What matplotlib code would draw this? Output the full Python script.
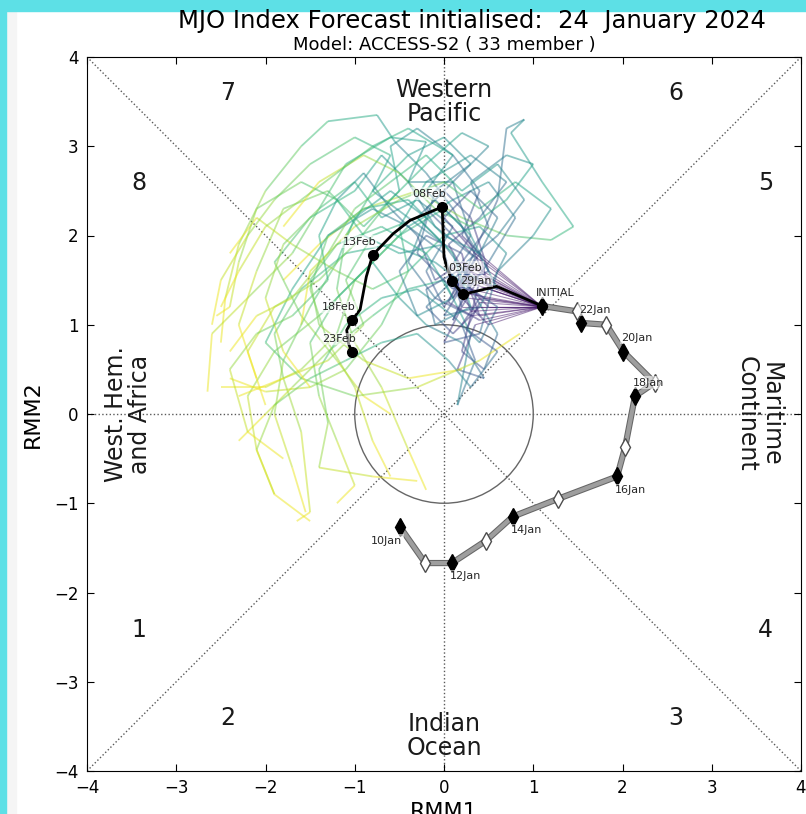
import matplotlib.pyplot as plt
import numpy as np
from matplotlib.collections import LineCollection
from matplotlib.patches import Circle, Rectangle
import matplotlib.patheffects as pe

# observed RMM1/RMM2, 10 Jan .. 24 Jan (24 Jan = INITIAL)
obs_dates = ['10Jan', '11Jan', '12Jan', '13Jan', '14Jan', '15Jan', '16Jan', '17Jan',
             '18Jan', '19Jan', '20Jan', '21Jan', '22Jan', '23Jan', '24Jan']
obs_x = [-0.49, -0.21, 0.09, 0.47, 0.77, 1.28, 1.94, 2.03, 2.14, 2.36, 2.01, 1.82, 1.54, 1.49, 1.10]
obs_y = [-1.27, -1.67, -1.67, -1.42, -1.15, -0.95, -0.70, -0.37, 0.20, 0.35, 0.70, 1.00, 1.02, 1.15, 1.21]

# ensemble mean forecast (labelled every 5 days)
mean_x = [1.10, 0.59, 0.21, 0.09, 0.03, 0.00, -0.02, -0.38, -0.57, -0.80, -0.87, -0.94, -1.03, -1.09, -1.07, -1.03]
mean_y = [1.21, 1.43, 1.34, 1.49, 1.65, 1.76, 2.32, 2.17, 2.02, 1.78, 1.54, 1.17, 1.05, 0.94, 0.79, 0.69]
mean_lab = ['INITIAL', '', '29Jan', '03Feb', '', '', '08Feb', '', '', '13Feb', '', '', '18Feb', '', '', '23Feb']

# ensemble member tracks (24 Jan -> 23 Feb)
ens_tracks = [
    [(1.10, 1.20), (0.45, 1.55), (0.30, 1.90), (0.10, 2.30), (-0.20, 2.70), (-0.55, 3.05), (-0.75, 3.35),
     (-1.30, 3.28), (-1.60, 3.00), (-2.00, 2.50), (-2.30, 1.90), (-2.45, 1.30), (-2.50, 0.80)],
    [(1.10, 1.20), (0.50, 1.40), (0.40, 1.80), (0.20, 1.50), (0.60, 2.40), (0.70, 3.20), (0.90, 3.30), (0.75, 3.15),
     (1.10, 2.60), (1.45, 2.10), (1.20, 1.95), (0.70, 2.00), (0.20, 2.20), (-0.30, 2.50), (-0.90, 2.30),
     (-1.40, 1.90), (-1.80, 1.50)],
    [(1.10, 1.20), (0.30, 1.10), (0.20, 0.70), (0.45, 0.50), (0.60, 0.90), (0.30, 1.40), (-0.10, 1.70),
     (-0.60, 1.90), (-1.10, 1.80), (-1.60, 1.40), (-1.90, 0.90), (-1.80, 0.40), (-1.60, -0.20),
     (-1.50, -1.10), (-1.65, -1.20)],
    [(1.10, 1.20), (0.20, 1.50), (0.00, 1.20), (-0.20, 1.60), (0.10, 2.10), (-0.30, 2.40), (-0.70, 2.20),
     (-1.00, 2.60), (-1.40, 2.30), (-1.70, 1.80), (-2.20, 1.30), (-2.60, 0.90), (-2.65, 0.25)],
    [(1.10, 1.20), (0.40, 1.30), (0.20, 1.00), (0.35, 0.60), (0.15, 0.10), (0.30, 0.90), (0.00, 1.50),
     (-0.40, 1.40), (-0.80, 1.10), (-1.30, 0.70), (-1.70, 0.30), (-2.00, 0.00), (-2.30, -0.30)],
    [(1.10, 1.20), (0.35, 1.65), (0.10, 1.40), (-0.30, 1.80), (-0.10, 2.50), (0.30, 2.80), (0.00, 3.10),
     (-0.40, 2.90), (-0.80, 2.50), (-1.10, 2.00), (-1.20, 1.40), (-1.00, 0.80), (-0.70, 0.30),
     (-0.40, -0.40), (-0.20, -0.85)],
    [(1.10, 1.20), (0.50, 1.00), (0.20, 1.30), (0.50, 1.70), (0.80, 2.20), (0.50, 2.60), (0.10, 2.40),
     (-0.40, 2.10), (-0.90, 1.60), (-1.40, 1.10), (-1.90, 0.70), (-2.20, 0.20), (-2.10, -0.40), (-1.90, -0.90)],
    [(1.10, 1.20), (0.25, 1.30), (0.05, 1.60), (0.30, 2.00), (0.10, 2.60), (-0.40, 2.60), (-0.70, 2.90),
     (-1.00, 2.50), (-1.50, 2.20), (-1.90, 1.70), (-1.60, 1.10), (-1.20, 0.60), (-0.90, 0.20), (-0.60, 0.00)],
    [(1.10, 1.20), (0.40, 1.20), (0.10, 0.90), (-0.20, 1.20), (0.20, 1.60), (0.60, 1.40), (0.30, 2.00),
     (0.00, 2.30), (-0.50, 2.00), (-1.00, 1.50), (-1.20, 0.90), (-1.60, 0.50), (-2.00, 0.30), (-2.50, 0.30)],
    [(1.10, 1.20), (0.35, 1.45), (0.20, 1.20), (0.00, 1.80), (-0.40, 2.10), (-0.80, 2.30), (-1.30, 2.00),
     (-1.70, 1.40), (-2.00, 0.80), (-1.60, 0.40), (-1.00, 0.20), (-0.30, 0.30), (0.40, 0.60), (0.85, 0.90)],
    [(1.10, 1.20), (0.45, 1.75), (0.20, 2.00), (0.40, 2.50), (0.10, 2.90), (-0.30, 3.20), (-0.60, 3.00),
     (-0.50, 2.50), (-0.90, 2.10), (-1.30, 2.50), (-1.80, 2.30), (-2.10, 1.60), (-2.30, 1.00), (-2.10, 0.40)],
    [(1.10, 1.20), (0.20, 1.20), (0.00, 0.80), (0.40, 0.90), (0.60, 1.60), (1.00, 2.00), (1.20, 2.30),
     (0.80, 2.60), (0.40, 2.30), (0.00, 2.60), (-0.50, 2.40), (-1.00, 2.10), (-1.50, 1.60), (-1.60, 1.00)],
    [(1.10, 1.20), (0.40, 1.50), (0.30, 1.10), (-0.10, 1.30), (-0.40, 1.70), (-0.20, 2.20), (-0.60, 2.50),
     (-1.00, 2.20), (-1.20, 1.70), (-1.50, 1.20), (-1.80, 0.60), (-1.90, 0.00), (-1.70, -0.60), (-1.55, -1.10)],
    [(1.10, 1.20), (0.30, 1.80), (0.10, 2.00), (-0.20, 2.30), (0.20, 2.70), (0.50, 3.00), (0.20, 3.15),
     (-0.20, 2.80), (-0.60, 2.40), (-1.00, 1.90), (-1.40, 1.50), (-1.90, 1.20), (-2.20, 0.70), (-2.00, 0.10)],
    [(1.10, 1.20), (0.50, 1.20), (0.30, 1.40), (0.60, 1.20), (0.40, 0.80), (0.10, 1.10), (-0.30, 1.40),
     (-0.70, 1.30), (-1.10, 1.00), (-1.40, 0.50), (-1.30, -0.10), (-1.40, -0.60), (-0.80, -0.70), (-0.30, -0.75)],
    [(1.10, 1.20), (0.25, 1.55), (0.05, 1.90), (0.40, 2.20), (0.70, 2.60), (0.30, 2.90), (-0.20, 2.60),
     (-0.50, 2.10), (-0.40, 1.60), (-0.80, 1.40), (-1.20, 1.60), (-1.70, 1.90), (-2.10, 2.20), (-2.40, 1.80)],
    [(1.10, 1.20), (0.40, 1.10), (0.25, 1.50), (0.00, 1.10), (0.40, 1.20), (0.70, 1.80), (0.40, 2.10),
     (0.00, 2.00), (-0.40, 1.60), (-0.70, 1.00), (-1.10, 0.50), (-1.50, 0.30), (-2.00, 0.25), (-2.40, 0.40)],
    [(1.10, 1.20), (0.50, 1.60), (0.30, 2.20), (0.00, 2.50), (-0.30, 2.20), (0.00, 1.90), (-0.50, 1.80),
     (-0.90, 2.00), (-1.20, 2.40), (-1.60, 2.60), (-2.10, 2.30), (-2.30, 1.70), (-2.40, 1.20), (-2.55, 1.10)],
    [(1.10, 1.20), (0.35, 1.00), (0.15, 0.50), (0.45, 0.40), (0.20, 0.80), (-0.20, 1.00), (-0.50, 1.30),
     (-0.80, 1.70), (-1.20, 1.30), (-1.50, 0.80), (-1.40, 0.20), (-1.20, -0.30), (-1.00, -0.80), (-1.20, -1.00)],
    [(1.10, 1.20), (0.20, 1.70), (-0.10, 1.50), (-0.30, 2.00), (-0.60, 2.30), (-0.90, 2.70), (-1.20, 2.40),
     (-1.40, 2.00), (-1.30, 1.50), (-1.70, 1.10), (-2.10, 0.90), (-2.40, 0.50), (-2.20, -0.20), (-1.80, -0.50)],
    [(1.10, 1.20), (0.45, 1.45), (0.20, 1.70), (0.50, 2.10), (0.30, 2.60), (0.70, 2.90), (1.00, 2.80),
     (0.70, 2.40), (0.30, 2.10), (-0.10, 2.30), (-0.50, 2.70), (-0.90, 2.90), (-1.40, 2.60), (-1.80, 2.10)],
    [(1.10, 1.20), (0.30, 1.40), (0.20, 1.80), (-0.20, 2.00), (-0.50, 1.60), (-0.30, 1.10), (0.10, 1.30),
     (-0.20, 1.80), (-0.70, 2.10), (-1.20, 1.90), (-1.50, 1.50), (-1.40, 1.00), (-0.90, 0.60), (-0.40, 0.40), (0.20, 0.50)],
    [(1.10, 1.20), (0.40, 1.25), (0.25, 0.95), (0.60, 0.70), (0.30, 0.30), (0.05, 0.60), (-0.30, 0.90),
     (-0.70, 0.80), (-1.10, 0.60), (-1.50, 0.40), (-1.90, 0.10), (-2.10, -0.40), (-1.90, -0.90), (-1.50, -1.20)],
    [(1.10, 1.20), (0.25, 1.35), (0.10, 1.05), (0.30, 1.50), (0.00, 1.90), (-0.40, 2.20), (-0.80, 2.50),
     (-0.60, 2.90), (-1.00, 3.10), (-1.50, 2.80), (-1.90, 2.40), (-2.20, 2.00), (-2.50, 1.50), (-2.60, 1.00)],
    [(1.10, 1.20), (0.30, 1.60), (0.10, 1.30), (0.35, 1.75), (-0.10, 2.10), (-0.40, 2.60), (-0.20, 3.05),
     (-0.60, 3.10), (-1.10, 2.80), (-1.40, 2.30), (-1.80, 1.90), (-2.00, 1.30), (-1.80, 0.70), (-1.50, 0.30)],
    [(1.10, 1.20), (0.40, 1.05), (0.05, 1.25), (0.25, 1.70), (0.60, 2.00), (0.90, 2.40), (0.60, 2.80),
     (0.20, 2.50), (-0.20, 2.90), (-0.60, 2.60), (-1.00, 2.30), (-1.30, 1.80), (-1.70, 1.30), (-2.10, 1.10), (-2.40, 0.70)],
    [(1.10, 1.20), (0.30, 1.15), (0.15, 1.60), (-0.20, 1.40), (-0.10, 1.00), (0.30, 1.20), (0.10, 1.80),
     (-0.30, 2.20), (-0.80, 2.00), (-1.10, 1.50), (-0.90, 1.00), (-1.30, 0.60), (-1.80, 0.40), (-2.30, 0.20)],
    [(1.10, 1.20), (0.35, 1.80), (0.00, 2.20), (0.30, 2.50), (0.60, 2.20), (0.40, 1.80), (0.00, 2.00),
     (-0.40, 2.40), (-0.90, 2.30), (-1.30, 2.00), (-1.50, 1.40), (-1.30, 0.80), (-1.00, 0.30), (-0.80, -0.30), (-0.60, -0.70)],
    [(1.10, 1.20), (0.45, 1.30), (0.15, 1.45), (0.50, 1.60), (0.20, 2.10), (-0.20, 2.50), (0.10, 2.90),
     (-0.40, 3.20), (-0.80, 3.00), (-1.20, 2.70), (-1.60, 2.40), (-2.00, 2.10), (-2.30, 1.60), (-2.50, 1.20)],
]

phase_num = ['1', '2', '3', '4', '5', '6', '7', '8']
phase_x = [-3.42, -2.42, 2.60, 3.60, 3.60, 2.60, -2.42, -3.42]
phase_y = [-2.42, -3.41, -3.41, -2.42, 2.59, 3.60, 3.60, 2.59]

region_txt = ['Western\nPacific', 'Indian\nOcean', 'West. Hem.\nand Africa', 'Maritime\nContinent']
region_x = [0.0, 0.0, -3.54, 3.52]
region_y = [3.50, -3.61, 0.0, 0.0]
region_rot = [0, 0, 90, 270]

fig = plt.figure(figsize=(8.06, 8.14), dpi=100)
ax = fig.add_axes([87/806, 43/814, 714/806, 714/814])

# background frame of the screenshot
fig.patches.append(Rectangle((0, 0), 6/806, 1, transform=fig.transFigure, color='#5de0e6', zorder=-1))
fig.patches.append(Rectangle((6/806, 0), 10/806, 1, transform=fig.transFigure, color='#f5f5f5', zorder=-2))
fig.patches.append(Rectangle((0, 1 - 11/814), 1, 11/814, transform=fig.transFigure, color='#5de0e6', zorder=-1))

# guide lines
ax.plot([-4, 4], [-4, 4], ':', color='0.35', lw=1, zorder=1)
ax.plot([-4, 4], [4, -4], ':', color='0.35', lw=1, zorder=1)
ax.axhline(0, ls=':', color='0.35', lw=1, zorder=1)
ax.axvline(0, ls=':', color='0.35', lw=1, zorder=1)
ax.add_patch(Circle((0, 0), 1, fill=False, ec='0.4', lw=1, zorder=2))

# ensemble spaghetti, coloured by lead time
for tr in ens_tracks:
    pts = np.array(tr)
    segs = np.stack([pts[:-1], pts[1:]], axis=1)
    t = ((np.arange(len(segs)) + 0.5) / len(segs)) ** 0.8
    lw = np.where(np.arange(len(segs)) == 0, 0.8, 1.3)
    lc = LineCollection(segs, cmap='viridis', alpha=0.5, linewidths=lw, zorder=3)
    lc.set_array(t)
    lc.set_clim(0, 1)
    ax.add_collection(lc)

# observed
ax.plot(obs_x, obs_y, '-', color='0.62', lw=3,
        path_effects=[pe.Stroke(linewidth=4.5, foreground='0.4'), pe.Normal()], zorder=5)
ox = np.array(obs_x)
oy = np.array(obs_y)
ax.plot(ox[0::2], oy[0::2], 'd', color='k', ms=9, zorder=6)
ax.plot(ox[1::2], oy[1::2], 'd', mfc='white', mec='0.3', ms=9, mew=1, zorder=6)

box = dict(facecolor='white', edgecolor='none', alpha=0.55, pad=1)
for i in range(0, len(obs_dates) - 1, 2):
    ax.text(ox[i] + 0.15*np.sign(ox[i]), oy[i] + 0.15*np.sign(oy[i]), obs_dates[i],
            ha='center', va='center', fontsize=8, color='0.15', bbox=box, zorder=7)

# ensemble mean
mx = np.array(mean_x)
my = np.array(mean_y)
ax.plot(mx, my, '-', color='k', lw=2, zorder=8)
lab = np.array([s != '' for s in mean_lab])
ax.plot(mx[lab], my[lab], 'o', color='k', ms=7, zorder=9)
for x, y, s in zip(mx, my, mean_lab):
    if s:
        ax.text(x + 0.15*np.sign(x), y + 0.15*np.sign(y), s, ha='center', va='center',
                fontsize=8, color='0.15', bbox=box, zorder=10)

for s, x, y in zip(phase_num, phase_x, phase_y):
    ax.text(x, y, s, ha='center', va='center', fontsize=17, color='0.1')
for s, x, y, r in zip(region_txt, region_x, region_y, region_rot):
    ax.text(x, y, s, ha='center', va='center', rotation=r, fontsize=17, color='0.1',
            linespacing=1.0, rotation_mode='anchor')

ax.set_xlim(-4, 4)
ax.set_ylim(-4, 4)
ax.set_xticks(np.arange(-4, 5))
ax.set_yticks(np.arange(-4, 5))
ax.tick_params(direction='in', top=True, right=True, length=5, labelsize=12, pad=6)
ax.set_xlabel('RMM1', fontsize=16, labelpad=3)
ax.set_ylabel('RMM2', fontsize=16, labelpad=8)

fig.text(472/806, 1 - 28/814, 'MJO Index Forecast initialised:  24  January 2024',
         ha='center', va='baseline', fontsize=17.5)
fig.text(444/806, 1 - 50/814, 'Model: ACCESS-S2 ( 33 member )',
         ha='center', va='baseline', fontsize=13)

fig.savefig('out.png', dpi=100, facecolor='white')
